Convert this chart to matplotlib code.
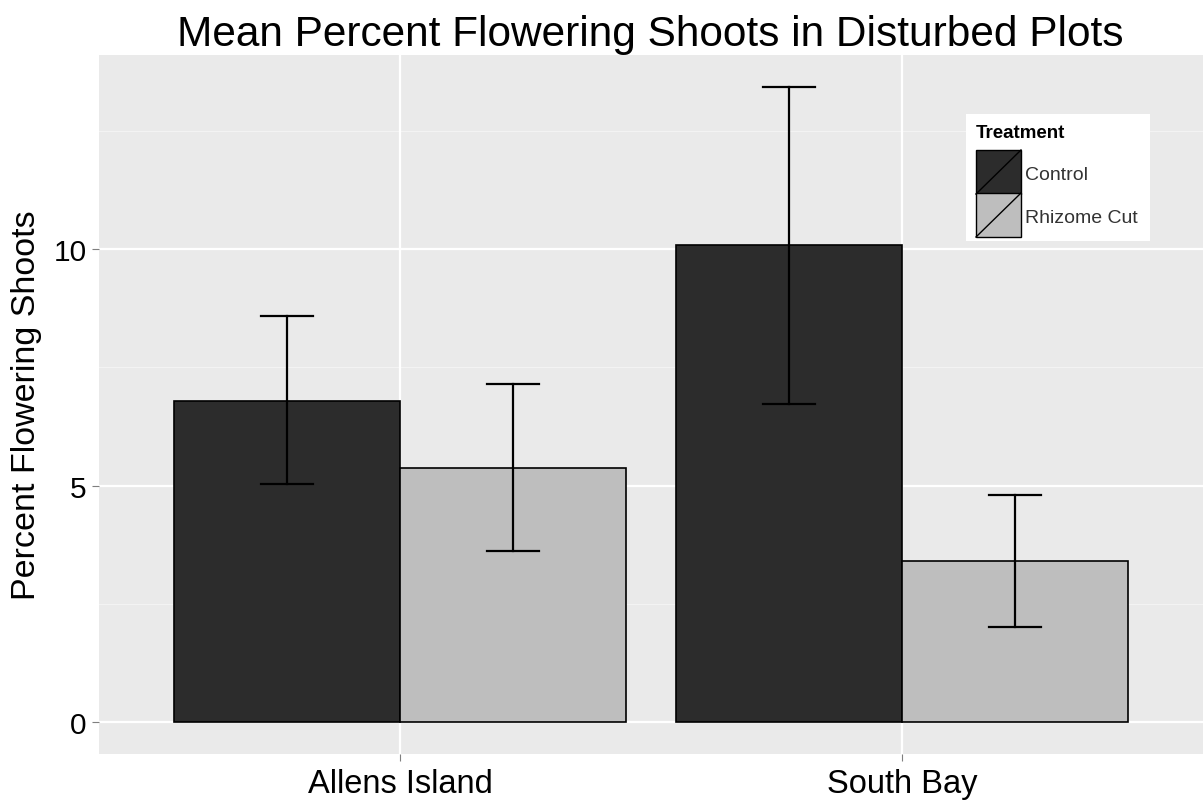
import numpy as np
import matplotlib
matplotlib.use("Agg")
import matplotlib.pyplot as plt
from matplotlib.patches import Rectangle
from matplotlib.lines import Line2D

# -----------------------------
# Data
# -----------------------------
sites = ["Allens Island", "South Bay"]
treatments = ["Control", "Rhizome Cut"]
means_control = [6.79, 10.08]
means_rhizome = [5.37, 3.40]
lower_control = [5.03, 6.72]
upper_control = [8.59, 13.42]
lower_rhizome = [3.62, 2.01]
upper_rhizome = [7.15, 4.80]

colors = ["#2c2c2c", "#bebebe"]

plt.rcParams["font.family"] = ["Liberation Sans", "DejaVu Sans"]

W, H = 1204, 804
fig = plt.figure(figsize=(W / 100, H / 100), dpi=100)
ax = fig.add_axes([0.0822, 0.061, 0.9168, 0.869])


def px(x, y):
    # pixel position (from top-left) -> figure fraction
    return x / W, 1 - y / H


x = np.arange(1, len(sites) + 1)
w = 0.45
means = [means_control, means_rhizome]
lows = [lower_control, lower_rhizome]
highs = [upper_control, upper_rhizome]

# -----------------------------
# Panel background / grid
# -----------------------------
ax.set_facecolor("#eaeaea")
for yy in [2.5, 7.5, 12.5]:
    ax.axhline(yy, color="#f3f3f3", lw=0.8, zorder=0)
for yy in [0, 5, 10]:
    ax.axhline(yy, color="white", lw=1.6, zorder=0)
for xx in x:
    ax.axvline(xx, color="white", lw=1.6, zorder=0)

# -----------------------------
# Bars + error bars
# -----------------------------
for i, t in enumerate(treatments):
    pos = x + (i - 0.5) * w
    ax.bar(pos, means[i], width=w, color=colors[i], edgecolor="black",
           linewidth=1.2, zorder=2, label=t)
    for p, lo, hi in zip(pos, lows[i], highs[i]):
        ax.plot([p, p], [lo, hi], color="black", lw=1.6, zorder=3)
        ax.plot([p - 0.052, p + 0.052], [hi, hi], color="black", lw=1.6, zorder=3)
        ax.plot([p - 0.052, p + 0.052], [lo, lo], color="black", lw=1.6, zorder=3)

ax.set_xlim(0.4, 2.6)
ax.set_ylim(-0.671, 14.09)
ax.set_xticks(x)
ax.set_xticklabels(sites)
ax.set_yticks([0, 5, 10])
ax.tick_params(axis="both", length=5, color="#7f7f7f", labelcolor="black")
ax.tick_params(axis="y", pad=4, labelsize=21.5)
ax.tick_params(axis="x", pad=5, labelsize=23.5)
for s in ax.spines.values():
    s.set_visible(False)

ax.set_ylabel("Percent Flowering Shoots", fontsize=24.5, labelpad=8)
fig.text(0.54, 0.957, "Mean Percent Flowering Shoots in Disturbed Plots",
         ha="center", va="center", fontsize=30.5)

# -----------------------------
# Legend (drawn by hand, ggplot style keys with slash)
# -----------------------------
bx0, by0 = px(966, 242)
bx1, by1 = px(1150, 115)
fig.patches.append(Rectangle((bx0, by0), bx1 - bx0, by1 - by0, facecolor="white",
                             edgecolor="none", transform=fig.transFigure, zorder=5))
tx, ty = px(976, 134)
fig.text(tx, ty, "Treatment", fontsize=13.5, fontweight="bold", ha="left",
         va="center", zorder=6)
key_tops = [151, 194]
for c, lab, kt in zip(colors, treatments, key_tops):
    kx0, ky0 = px(976, kt + 44)
    kx1, ky1 = px(1021, kt)
    fig.patches.append(Rectangle((kx0, ky0), kx1 - kx0, ky1 - ky0, facecolor=c,
                                 edgecolor="black", lw=1.0,
                                 transform=fig.transFigure, zorder=6))
    fig.lines.append(Line2D([kx0, kx1], [ky0, ky1], color="black", lw=1.0,
                            transform=fig.transFigure, zorder=7))
    lx, ly = px(1025, kt + 25)
    fig.text(lx, ly, lab, fontsize=14, ha="left", va="center", zorder=6,
             color="#333333")

fig.savefig("out.png", dpi=100, facecolor="white")
